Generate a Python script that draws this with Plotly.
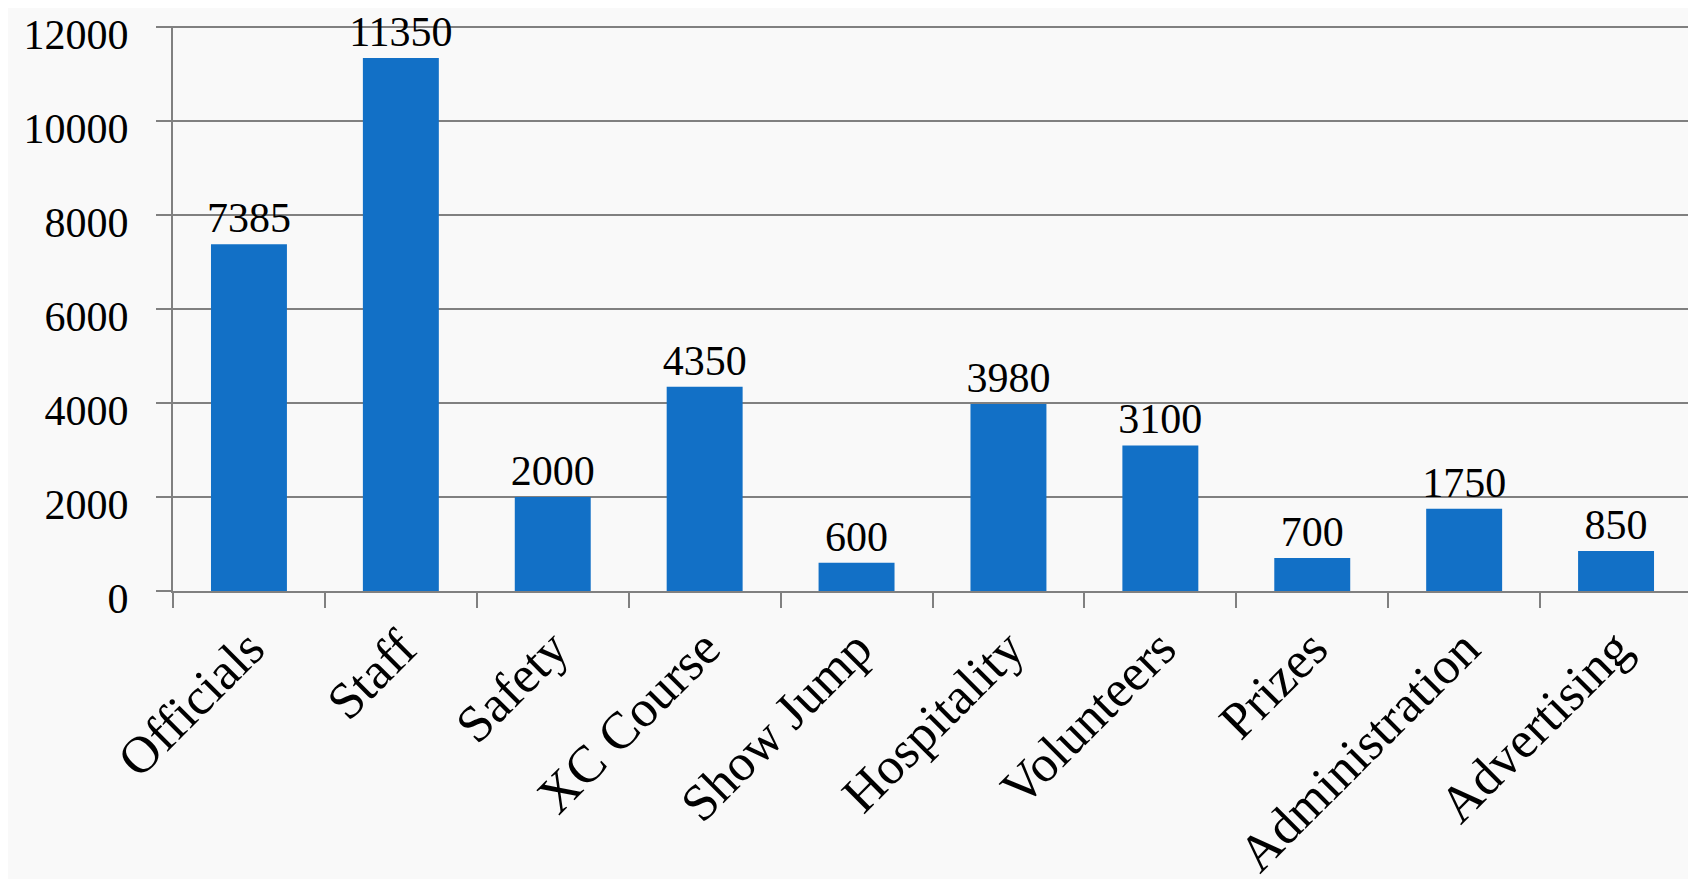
import plotly.graph_objects as go

categories = ["Officials", "Staff", "Safety", "XC Course", "Show Jump", "Hospitality",
              "Volunteers", "Prizes", "Administration", "Advertising"]
values = [7385, 11350, 2000, 4350, 600, 3980, 3100, 700, 1750, 850]
y_ticks = [0, 2000, 4000, 6000, 8000, 10000, 12000]

FONT = "Liberation Serif"
GRID = "#808080"

fig = go.Figure(go.Bar(
    x=categories, y=values,
    marker=dict(color="#1270C6", line=dict(width=0)),
    text=[str(v) for v in values], textposition="outside",
    textfont=dict(family=FONT, size=42, color="black"),
    cliponaxis=False, constraintext="none",
))

fig.update_layout(
    width=1696, height=879,
    margin=dict(l=165, r=12, t=18, b=296, autoexpand=False),
    paper_bgcolor="#F9F9F9", plot_bgcolor="#F9F9F9",
    bargap=0.5, showlegend=False,
    font=dict(family=FONT, color="black"),
    uniformtext=dict(mode=False),
)
fig.update_xaxes(
    type="category", tickson="boundaries", ticks="outside", ticklen=15,
    tickcolor=GRID, tickwidth=2, showline=True, linecolor=GRID, linewidth=2,
    tickangle=-45, tickfont=dict(family=FONT, size=52, color="black"),
    showgrid=False, ticklabelstandoff=4, automargin=False,
    ticklabeloverflow="allow",
)
fig.update_yaxes(
    range=[0, 12030], tickvals=y_ticks, ticktext=[str(t) for t in y_ticks],
    ticks="outside", ticklen=15, tickcolor=GRID, tickwidth=2,
    showline=True, linecolor=GRID, linewidth=2,
    showgrid=True, gridcolor=GRID, gridwidth=1.5, zeroline=False,
    tickfont=dict(family=FONT, size=42, color="black"),
    ticklabelstandoff=19, ticklabelshift=7, automargin=False,
    ticklabeloverflow="allow",
)

fig.write_html("out.html")
